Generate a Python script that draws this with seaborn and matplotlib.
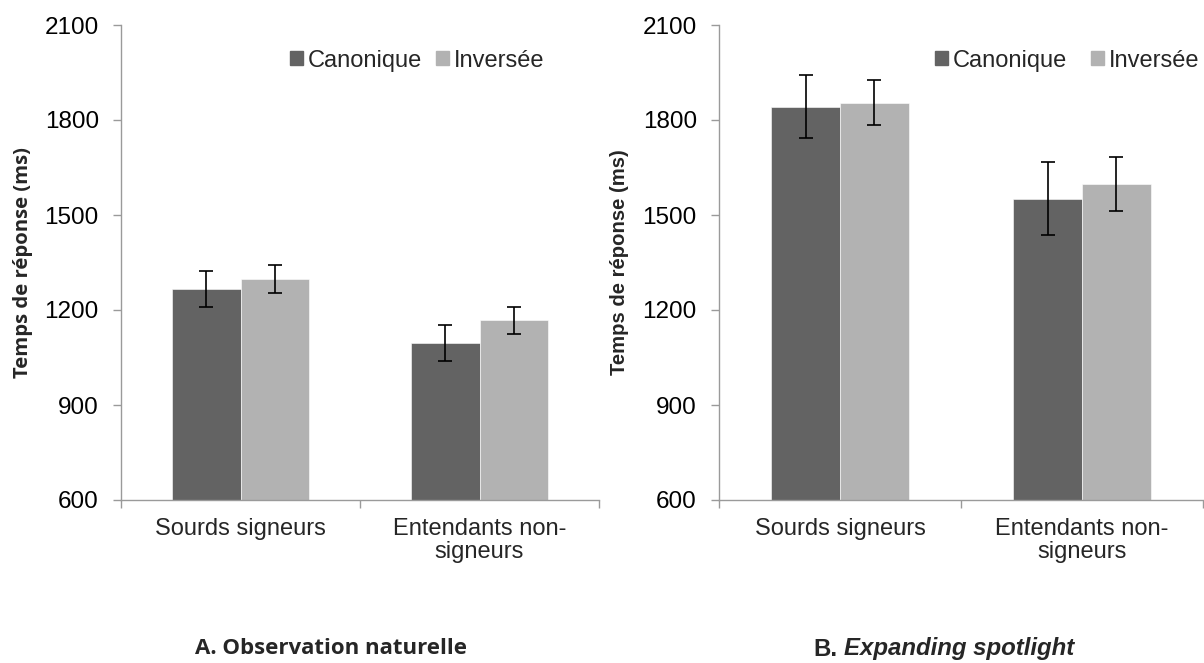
import numpy as np
import pandas as pd
import matplotlib
matplotlib.use('Agg')
import matplotlib.pyplot as plt
import seaborn as sns
from matplotlib.patches import Patch

# données
groupes = ['Sourds signeurs', 'Entendants non-\nsigneurs']
conditions = ['Canonique', 'Inversée']

# A. Observation naturelle
moy_A_canon = [1265, 1095]
moy_A_inv = [1298, 1167]
err_A_canon = [57, 57]
err_A_inv = [43, 42]

# B. Expanding spotlight
moy_B_canon = [1842, 1552]
moy_B_inv = [1854, 1597]
err_B_canon = [99, 115]
err_B_inv = [71, 85]

y_ticks = [600, 900, 1200, 1500, 1800, 2100]
couleurs = ['#636363', '#b2b2b2']

sns.set_style('white')
plt.rcParams['font.family'] = ['Liberation Sans', 'DejaVu Sans']

W, H = 1204, 663
fig = plt.figure(figsize=(W / 100, H / 100), dpi=100)


def panneau(rect, canon, inv, err_c, err_i, leg_x, colsp, ylab_font, ylab_x):
    ax = fig.add_axes(rect)
    df = pd.DataFrame({
        'groupe': groupes * 2,
        'condition': [conditions[0]] * 2 + [conditions[1]] * 2,
        'rt': canon + inv,
    })
    sns.barplot(data=df, x='groupe', y='rt', hue='condition',
                order=groupes, hue_order=conditions, palette=couleurs,
                width=0.57, errorbar=None, saturation=1, ax=ax,
                edgecolor='white', linewidth=0.4, legend=False)
    # barres d'erreur placées sur les rectangles dessinés
    errs = err_c + err_i
    for p, e in zip(ax.patches[:4], errs):
        xc = p.get_x() + p.get_width() / 2
        ax.errorbar(xc, p.get_height(), yerr=e, color='black', lw=1.2,
                    capsize=5, capthick=1.2)
    ax.set_ylim(600, 2100)
    ax.set_yticks(y_ticks)
    ax.set_xlim(-0.5, 1.5)
    ax.set_xlabel('')
    ax.set_ylabel('Temps de réponse (ms)', fontsize=14.6, fontweight='bold',
                  family=ylab_font)
    ax.yaxis.set_label_coords(ylab_x, 0.5)
    for s in ['top', 'right']:
        ax.spines[s].set_visible(False)
    for s in ['left', 'bottom']:
        ax.spines[s].set_color('#9a9a9a')
        ax.spines[s].set_linewidth(1.0)
    ax.tick_params(axis='y', left=True, length=6, width=1, color='#9a9a9a',
                   labelsize=17.5, pad=10, labelcolor='black')
    ax.tick_params(axis='x', which='major', length=0, labelsize=17, pad=13)
    ax.set_xticks([-0.5, 0.5, 1.5], minor=True)
    ax.tick_params(axis='x', which='minor', bottom=True, length=6, width=1,
                   color='#9a9a9a')
    for t in ax.get_xticklabels():
        t.set_linespacing(1.05)
    handles = [Patch(color=c, label=l) for c, l in zip(couleurs, conditions)]
    ax.legend(handles=handles, loc='center left', bbox_to_anchor=(leg_x, 0.925),
              ncol=2, frameon=False, fontsize=17, handlelength=0.55,
              handleheight=0.55, handletextpad=0.2, columnspacing=colsp,
              borderaxespad=0, borderpad=0)
    return ax


axA = panneau([121 / W, 163 / H, 478 / W, 475 / H], moy_A_canon, moy_A_inv,
              err_A_canon, err_A_inv, 0.354, 0.6, 'Open Sans', -0.184)
axB = panneau([719 / W, 163 / H, 484 / W, 475 / H], moy_B_canon, moy_B_inv,
              err_B_canon, err_B_inv, 0.447, 1.0, 'Liberation Sans', -0.186)

fig.text(331 / W, 1 - 649 / H, 'A. Observation naturelle', ha='center',
         va='center', fontsize=16, fontweight='bold', family='Open Sans')
fig.text(813 / W, 1 - 649 / H, 'B.', ha='left', va='center', fontsize=17.3,
         fontweight='bold')
fig.text(844 / W, 1 - 649 / H, 'Expanding spotlight', ha='left', va='center',
         fontsize=17.3, fontweight='bold', style='italic')

fig.savefig('out.png', dpi=100)
